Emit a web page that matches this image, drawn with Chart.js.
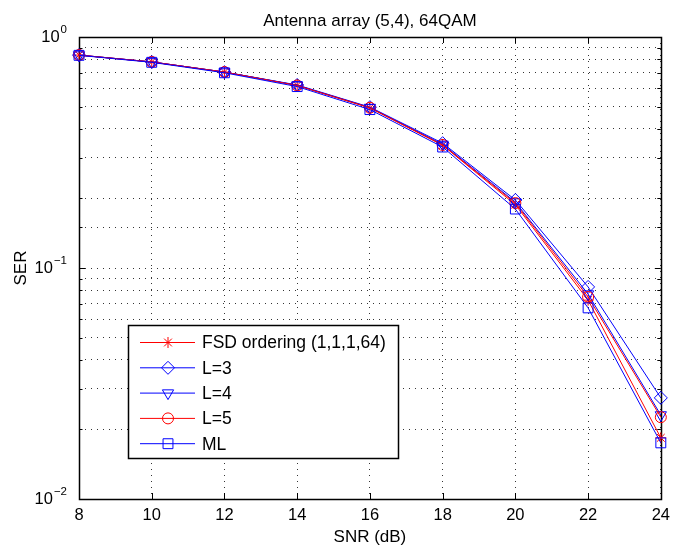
<!DOCTYPE html>
<html lang="en">
<head>
<meta charset="UTF-8">
<title>Antenna array (5,4), 64QAM</title>
<style>
    body {
        margin: 0;
        background: #fff;
    }
    #wrap {
        width: 677px;
        height: 551px;
    }
</style>
</head>
<body>
<div id="wrap"><canvas id="serChart" width="677" height="551"></canvas></div>

<script src="https://cdn.jsdelivr.net/npm/chart.js"></script>
<script>
    // SNR points (dB) and symbol error rates
    const snrDb = [8, 10, 12, 14, 16, 18, 20, 22, 24];
    const serFsd = [0.835, 0.78, 0.705, 0.617, 0.493, 0.340, 0.188, 0.0726, 0.0184];
    const serL3 = [0.835, 0.78, 0.705, 0.620, 0.497, 0.347, 0.197, 0.0828, 0.0274];
    const serL4 = [0.835, 0.78, 0.705, 0.618, 0.495, 0.343, 0.193, 0.0771, 0.0231];
    const serL5 = [0.835, 0.78, 0.705, 0.617, 0.494, 0.341, 0.191, 0.0749, 0.0226];
    const serMl = [0.833, 0.777, 0.700, 0.610, 0.485, 0.334, 0.180, 0.0672, 0.0175];

    const seriesNames = ['FSD ordering (1,1,1,64)', 'L=3', 'L=4', 'L=5', 'ML'];
    const xTickValues = [8, 10, 12, 14, 16, 18, 20, 22, 24];
    const yDecades = [0.01, 0.1, 1];
    const yExponents = ['\u22122', '\u22121', '0'];
    const chartTitle = 'Antenna array (5,4), 64QAM';

    const RED = '#ff0000';
    const BLUE = '#0000ff';
    const FONT = '"Liberation Sans", Arial, Helvetica, sans-serif';

    function makeSeries(name, values, color, style, radius, rotation, order) {
        return {
            label: name,
            data: snrDb.map((x, i) => ({x: x, y: values[i]})),
            borderColor: color,
            borderWidth: 1,
            pointStyle: style,
            pointRadius: radius,
            pointRotation: rotation,
            pointBorderColor: color,
            pointBackgroundColor: 'rgba(0,0,0,0)',
            pointBorderWidth: 1,
            tension: 0,
            clip: false,
            order: order
        };
    }

    const datasets = [
        makeSeries(seriesNames[0], serFsd, RED, 'star', 5.5, 0, 5),
        makeSeries(seriesNames[1], serL3, BLUE, 'rectRot', 6.5, 0, 4),
        makeSeries(seriesNames[2], serL4, BLUE, 'triangle', 6.5, 180, 3),
        makeSeries(seriesNames[3], serL5, RED, 'circle', 5.5, 0, 2),
        makeSeries(seriesNames[4], serMl, BLUE, 'rect', 7, 0, 1)
    ];

    // matlab style frame: inward ticks, full box, 10^n labels, title and the legend
    const matlabFrame = {
        id: 'matlabFrame',
        beforeDatasetsDraw(chart) {
            const ctx = chart.ctx;
            const area = chart.chartArea;
            const xs = chart.scales.x;
            const ys = chart.scales.y;

            ctx.save();
            ctx.strokeStyle = '#000';
            ctx.lineWidth = 1;
            ctx.beginPath();
            xs.ticks.forEach(t => {
                const px = Math.round(xs.getPixelForValue(t.value)) + 0.5;
                ctx.moveTo(px, area.bottom);
                ctx.lineTo(px, area.bottom - 6);
                ctx.moveTo(px, area.top);
                ctx.lineTo(px, area.top + 6);
            });
            ys.ticks.forEach(t => {
                const py = Math.round(ys.getPixelForValue(t.value)) + 0.5;
                const len = yDecades.includes(t.value) ? 6 : 3.5;
                ctx.moveTo(area.left, py);
                ctx.lineTo(area.left + len, py);
                ctx.moveTo(area.right, py);
                ctx.lineTo(area.right - len, py);
            });
            ctx.stroke();

            ctx.lineWidth = 1.5;
            ctx.strokeRect(Math.round(area.left) + 0.5, Math.round(area.top) + 0.5,
                Math.round(area.right - area.left), Math.round(area.bottom - area.top));
            ctx.restore();
        },
        afterDraw(chart) {
            const ctx = chart.ctx;
            const area = chart.chartArea;
            const ys = chart.scales.y;

            ctx.save();
            ctx.fillStyle = '#000';

            // title centred over the axes
            ctx.font = '17px ' + FONT;
            ctx.textAlign = 'center';
            ctx.textBaseline = 'middle';
            ctx.fillText(chartTitle, (area.left + area.right) / 2, 21);

            // y tick labels with superscript exponent
            yDecades.forEach((v, i) => {
                const py = ys.getPixelForValue(v);
                ctx.font = '11.5px ' + FONT;
                const expW = ctx.measureText(yExponents[i]).width;
                const baseRight = area.left - 13 - expW;
                ctx.textAlign = 'left';
                ctx.fillText(yExponents[i], baseRight + 1, py - 7);
                ctx.font = '16.5px ' + FONT;
                ctx.textAlign = 'right';
                ctx.fillText('10', baseRight, py);
            });

            // legend box
            const box = {left: 128, top: 325, width: 270, height: 133};
            ctx.fillStyle = '#fff';
            ctx.fillRect(box.left, box.top, box.width, box.height);
            ctx.lineWidth = 1.5;
            ctx.strokeStyle = '#000';
            ctx.strokeRect(box.left + 0.5, box.top + 0.5, box.width, box.height);

            ctx.font = '17.5px ' + FONT;
            ctx.textAlign = 'left';
            ctx.textBaseline = 'middle';
            chart.data.datasets.forEach((ds, i) => {
                const y = box.top + 17.5 + i * 25.3;
                ctx.strokeStyle = ds.borderColor;
                ctx.lineWidth = 1;
                ctx.beginPath();
                ctx.moveTo(box.left + 12, y);
                ctx.lineTo(box.left + 67, y);
                ctx.stroke();
                ctx.fillStyle = 'rgba(0,0,0,0)';
                Chart.helpers.drawPoint(ctx, {
                    pointStyle: ds.pointStyle,
                    radius: ds.pointRadius,
                    rotation: ds.pointRotation,
                    borderWidth: 1
                }, box.left + 40, y);
                ctx.fillStyle = '#000';
                ctx.fillText(ds.label, box.left + 74, y + 1);
            });
            ctx.restore();
        }
    };

    const ctx = document.getElementById('serChart').getContext('2d');
    new Chart(ctx, {
        type: 'line',
        data: {datasets: datasets},
        options: {
            responsive: false,
            animation: false,
            devicePixelRatio: 1,
            layout: {padding: {top: 37, right: 11, bottom: 0, left: 0}},
            plugins: {
                legend: {display: false},
                tooltip: {enabled: false},
                title: {display: false}
            },
            scales: {
                x: {
                    type: 'linear',
                    min: 8,
                    max: 24,
                    afterBuildTicks: s => { s.ticks = xTickValues.map(v => ({value: v})); },
                    afterFit: s => { s.height = 52; },
                    ticks: {color: '#000', font: {family: FONT, size: 16.5}, padding: 7, maxRotation: 0},
                    grid: {color: '#000', lineWidth: 0.8, drawTicks: false},
                    border: {display: false, dash: [1, 5]},
                    title: {
                        display: true,
                        text: 'SNR (dB)',
                        color: '#000',
                        font: {family: FONT, size: 17},
                        padding: {top: 0, bottom: 3}
                    }
                },
                y: {
                    type: 'logarithmic',
                    min: 0.01,
                    max: 1,
                    afterFit: s => { s.width = 79; },
                    ticks: {display: false},
                    grid: {color: '#000', lineWidth: 0.8, drawTicks: false},
                    border: {display: false, dash: [1, 5]},
                    title: {
                        display: true,
                        text: 'SER',
                        color: '#000',
                        font: {family: FONT, size: 17},
                        padding: {top: 11, bottom: 0}
                    }
                }
            }
        },
        plugins: [matlabFrame]
    });
</script>
</body>
</html>
